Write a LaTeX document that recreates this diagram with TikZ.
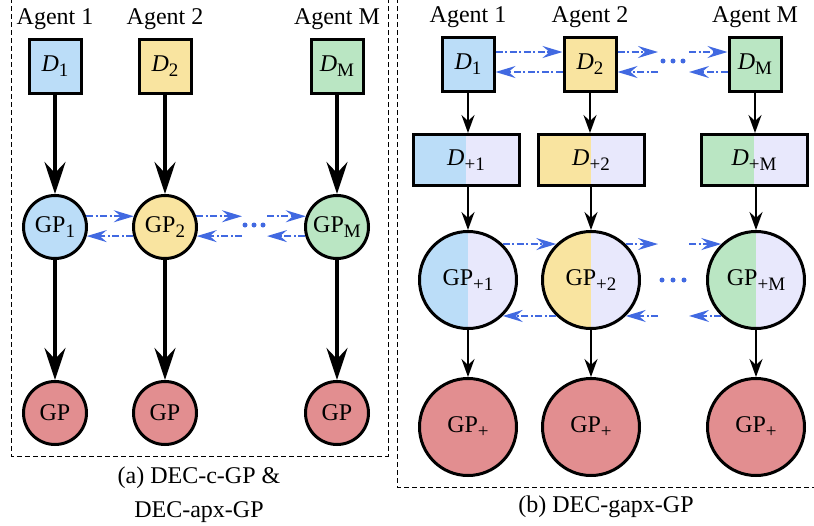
\documentclass[tikz,border=0pt]{standalone}
\usepackage{fontspec}
\setmainfont{Liberation Serif}
\usetikzlibrary{arrows.meta,positioning}

\definecolor{agentblue}{RGB}{187,221,248}
\definecolor{agentyellow}{RGB}{249,228,160}
\definecolor{agentgreen}{RGB}{186,230,195}
\definecolor{lavender}{RGB}{232,232,252}
\definecolor{gpred}{RGB}{226,142,144}
\definecolor{talkblue}{RGB}{65,105,225}

\newcommand{\lowsub}[1]{\raisebox{-5pt}{\fontsize{19}{19}\selectfont #1}}

\begin{document}
\begin{tikzpicture}[x=1pt,y=-1pt]
  \tikzstyle{every node}=[font=\fontsize{24}{28}\selectfont]
  \tikzstyle{databox}=[draw,line width=3pt,minimum width=52pt,minimum height=54pt,inner sep=0pt]
  \tikzstyle{widebox}=[draw,line width=3pt,minimum width=106pt,minimum height=51pt,inner sep=0pt,fill=lavender]
  \tikzstyle{gpnode}=[circle,draw,line width=3pt,minimum size=63pt,inner sep=0pt]
  \tikzstyle{biggp}=[circle,draw,line width=3pt,minimum size=97pt,inner sep=0pt]
  \tikzstyle{bigarrow}=[line width=3.5pt,-{Stealth[length=32pt,width=21pt,inset=11pt]}]
  \tikzstyle{thinarrow}=[line width=2pt,-{Stealth[length=18pt,width=13pt,inset=6pt]}]
  \tikzstyle{talk}=[talkblue,line width=2pt,dash pattern=on 7pt off 2.5pt on 2pt off 2.5pt,
                    -{Stealth[length=20pt,width=12pt,inset=7pt]}]
  \tikzstyle{frame}=[line width=0.8pt,dash pattern=on 5pt off 3pt]
  \tikzset{halffill/.style={fill=lavender,path picture={
      \fill[#1] (path picture bounding box.south west) rectangle (path picture bounding box.north);}}}

  \useasboundingbox (0,0) rectangle (814,525);

  % (a) DEC-c-GP & DEC-apx-GP
  \draw[frame] (11,-10) rectangle (388,456);
  \node (agL1) at (55,19) {Agent 1};
  \node (agL2) at (165,19) {Agent 2};
  \node (agLM) at (337,19) {Agent M};
  \node[databox,fill=agentblue] (dL1) at (55,66) {\textit{D}\lowsub{1}};
  \node[databox,fill=agentyellow] (dL2) at (165,66) {\textit{D}\lowsub{2}};
  \node[databox,fill=agentgreen] (dLM) at (337,66) {\textit{D}\lowsub{M}};
  \node[gpnode,fill=agentblue] (gL1) at (55,227) {GP\lowsub{1}};
  \node[gpnode,fill=agentyellow] (gL2) at (165,227) {GP\lowsub{2}};
  \node[gpnode,fill=agentgreen] (gLM) at (337,227) {GP\lowsub{M}};
  \node[gpnode,fill=gpred] (oL1) at (55,413) {GP};
  \node[gpnode,fill=gpred] (oL2) at (165,413) {GP};
  \node[gpnode,fill=gpred] (oLM) at (337,413) {GP};

  \draw[bigarrow] (dL1) -- (gL1);
  \draw[bigarrow] (dL2) -- (gL2);
  \draw[bigarrow] (dLM) -- (gLM);
  \draw[bigarrow] (gL1) -- (oL1);
  \draw[bigarrow] (gL2) -- (oL2);
  \draw[bigarrow] (gLM) -- (oLM);

  \coordinate (fL1) at (242,0);
  \coordinate (fL2) at (267,0);
  \draw[talk] (gL1.19) -- (gL2.161);
  \draw[talk] (gL2.196) -- (gL1.-16);
  \draw[talk] (gL2.19) -- (gL2.19 -| fL1);
  \draw[talk] (gL2.-16 -| fL1) -- (gL2.-16);
  \draw[talk] (gLM.161 -| fL2) -- (gLM.161);
  \draw[talk] (gLM.196) -- (gLM.196 -| fL2);
  \foreach \x in {245,254,263} \fill[talkblue] (\x,225) circle (2.5pt);

  \node[align=center,font=\fontsize{24}{34}\selectfont] (capA) at (199,495) {(a) DEC-c-GP \&\\DEC-apx-GP};

  % (b) DEC-gapx-GP
  \draw[frame] (397,-10) rectangle (830,487);
  \node (agR1) at (468,17) {Agent 1};
  \node (agR2) at (590,17) {Agent 2};
  \node (agRM) at (755,17) {Agent M};
  \node[databox,fill=agentblue] (dR1) at (468,64) {\textit{D}\lowsub{1}};
  \node[databox,fill=agentyellow] (dR2) at (590,64) {\textit{D}\lowsub{2}};
  \node[databox,fill=agentgreen] (dRM) at (755,64) {\textit{D}\lowsub{M}};
  \node[widebox,halffill=agentblue] (pR1) at (466,160) {\textit{D}\lowsub{+1}};
  \node[widebox,halffill=agentyellow] (pR2) at (591,160) {\textit{D}\lowsub{+2}};
  \node[widebox,halffill=agentgreen] (pRM) at (754,160) {\textit{D}\lowsub{+M}};
  \node[biggp,halffill=agentblue] (gR1) at (468,280) {GP\lowsub{+1}};
  \node[biggp,halffill=agentyellow] (gR2) at (591,280) {GP\lowsub{+2}};
  \node[biggp,halffill=agentgreen] (gRM) at (756,280) {GP\lowsub{+M}};
  \node[biggp,fill=gpred] (oR1) at (468,427) {GP\lowsub{+}};
  \node[biggp,fill=gpred] (oR2) at (591,427) {GP\lowsub{+}};
  \node[biggp,fill=gpred] (oRM) at (756,427) {GP\lowsub{+}};

  \draw[thinarrow] (dR1) -- (dR1 |- pR1.north);
  \draw[thinarrow] (dR2) -- (dR2 |- pR2.north);
  \draw[thinarrow] (dRM) -- (dRM |- pRM.north);
  \draw[thinarrow] (pR1.south -| gR1) -- (gR1);
  \draw[thinarrow] (pR2.south -| gR2) -- (gR2);
  \draw[thinarrow] (pRM.south -| gRM) -- (gRM);
  \draw[thinarrow] (gR1) -- (oR1);
  \draw[thinarrow] (gR2) -- (oR2);
  \draw[thinarrow] (gRM) -- (oRM);

  \coordinate (fR1) at (658,0);
  \coordinate (fR2) at (689,0);
  \draw[talk] ([yshift=12pt]dR1.east) -- ([yshift=12pt]dR2.west);
  \draw[talk] ([yshift=-8pt]dR2.west) -- ([yshift=-8pt]dR1.east);
  \draw[talk] ([yshift=12pt]dR2.east) -- ([yshift=12pt]dR2.east -| fR1);
  \draw[talk] ([yshift=-8pt]dR2.east -| fR1) -- ([yshift=-8pt]dR2.east);
  \draw[talk] ([yshift=12pt]dRM.west -| fR2) -- ([yshift=12pt]dRM.west);
  \draw[talk] ([yshift=-8pt]dRM.west) -- ([yshift=-8pt]dRM.west -| fR2);
  \foreach \x in {663,673,683} \fill[talkblue] (\x,61) circle (2.5pt);

  \draw[talk] (gR1.46) -- (gR2.134);
  \draw[talk] (gR2.226) -- (gR1.-46);
  \draw[talk] (gR2.46) -- (gR2.46 -| fR1);
  \draw[talk] (gR2.-46 -| fR1) -- (gR2.-46);
  \draw[talk] (gRM.134 -| fR2) -- (gRM.134);
  \draw[talk] (gRM.226) -- (gRM.226 -| fR2);
  \foreach \x in {662,673,684} \fill[talkblue] (\x,280) circle (2.5pt);

  \node (capB) at (606,507) {(b) DEC-gapx-GP};
\end{tikzpicture}
\end{document}
